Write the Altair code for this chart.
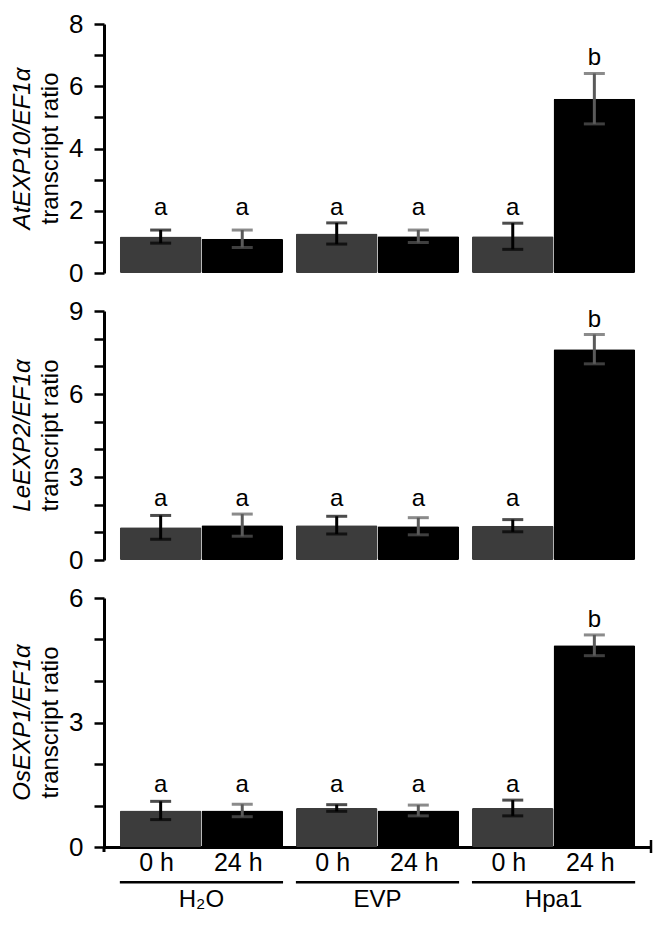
import altair as alt
import pandas as pd

# ---------------- data ----------------
treatments = ["H\u2082O", "EVP", "Hpa1"]
times = ["0 h", "24 h"]

# order: H2O 0h, H2O 24h, EVP 0h, EVP 24h, Hpa1 0h, Hpa1 24h
at_mean = [1.17, 1.10, 1.27, 1.18, 1.18, 5.60]
at_err = [0.21, 0.28, 0.34, 0.20, 0.42, 0.81]
at_letters = ["a", "a", "a", "a", "a", "b"]

le_mean = [1.18, 1.26, 1.26, 1.22, 1.24, 7.62]
le_err = [0.43, 0.40, 0.32, 0.31, 0.22, 0.53]
le_letters = ["a", "a", "a", "a", "a", "b"]

os_mean = [0.88, 0.88, 0.94, 0.88, 0.94, 4.86]
os_err = [0.22, 0.15, 0.08, 0.13, 0.19, 0.25]
os_letters = ["a", "a", "a", "a", "a", "b"]

genes = ["AtEXP10/EF1\u03b1", "LeEXP2/EF1\u03b1", "OsEXP1/EF1\u03b1"]
ylabel2 = "transcript ratio"
ymaxes = [8, 9, 6]
label_steps = [2, 3, 3]

# ---------------- style ----------------
FONT = "Liberation Sans"
W, H = 547, 249
BAR_COLORS = ["#3c3c3c", "#000000"]
ERR_COLORS = ["#000000", "#5a5a5a"]


def panel(mean, err, letters, ymax, step, gene, bottom):
    df = pd.DataFrame({
        "treatment": [t for t in treatments for _ in times],
        "time": times * len(treatments),
        "mean": mean,
        "err": err,
        "letter": letters,
    })
    df["upper"] = df["mean"] + df["err"]
    df["lower"] = df["mean"] - df["err"]
    base = alt.Chart(df)

    if bottom:
        xaxis = alt.Axis(labels=False, ticks=False, domain=True, domainWidth=3,
                         domainColor="black", title=None, grid=False)
    else:
        xaxis = None
    xenc = alt.X("treatment:N", sort=treatments,
                 scale=alt.Scale(paddingInner=0.073, paddingOuter=0.09),
                 axis=xaxis)
    xoff = alt.XOffset("time:N", sort=times,
                       scale=alt.Scale(paddingInner=0, paddingOuter=0))
    yscale = alt.Scale(domain=[0, ymax], nice=False, zero=True)
    yaxis = alt.Axis(values=list(range(ymax + 1)),
                     labelExpr=f"datum.value % {step} == 0 ? datum.label : ''",
                     tickSize=10, tickWidth=2.5, tickColor="black",
                     domainWidth=3, domainColor="black",
                     labelFontSize=26, labelFont=FONT, labelColor="black",
                     labelPadding=11, grid=False, title=None)

    def Y(f):
        return alt.Y(f, scale=yscale, axis=yaxis)

    errc = alt.condition("datum.time == '0 h'", alt.value(ERR_COLORS[0]),
                         alt.value(ERR_COLORS[1]))

    bars = base.mark_bar(cornerRadius=1.5).encode(
        x=xenc, xOffset=xoff, y=Y("mean:Q"),
        color=alt.Color("time:N", sort=times,
                        scale=alt.Scale(domain=times, range=BAR_COLORS),
                        legend=None))
    rules = base.mark_rule(strokeWidth=3).encode(
        x=xenc, xOffset=xoff, y=Y("lower:Q"), y2="upper:Q", color=errc)
    cap_hi = base.mark_tick(thickness=3, size=21).encode(
        x=xenc, xOffset=xoff, y=Y("upper:Q"), color=errc)
    cap_lo = base.mark_tick(thickness=3, size=21).encode(
        x=xenc, xOffset=xoff, y=Y("lower:Q"), color=errc)
    letters_l = base.transform_joinaggregate(
        ltop="max(upper)", groupby=["letter"]
    ).mark_text(baseline="alphabetic", dy=-8, fontSize=24, font=FONT,
                color="black").encode(
        x=xenc, xOffset=xoff, y=Y("ltop:Q"), text="letter:N")

    tdf = pd.DataFrame({"t": [gene], "u": [ylabel2]})
    title1 = alt.Chart(tdf).mark_text(angle=270, fontSize=24, font=FONT,
                                      fontStyle="italic", color="black").encode(
        x=alt.value(-81), y=alt.value(H / 2), text="t:N")
    title2 = alt.Chart(tdf).mark_text(angle=270, fontSize=24, font=FONT,
                                      color="black").encode(
        x=alt.value(-53), y=alt.value(H / 2), text="u:N")

    layers = [bars, rules, cap_hi, cap_lo, letters_l, title1, title2]

    if bottom:
        one = pd.DataFrame({"k": [0]})
        end_tick = alt.Chart(one).mark_rule(strokeWidth=2.5, color="black").encode(
            x=alt.value(W), y=alt.value(H - 7), y2=alt.value(H + 6))
        yext = alt.Chart(one).mark_rule(strokeWidth=3, color="black").encode(
            x=alt.value(0), y=alt.value(H), y2=alt.value(H + 5))
        time_lbl = base.mark_text(fontSize=25, font=FONT, color="black", dx=-4).encode(
            x=xenc, xOffset=xoff, y=alt.value(H + 16), text="time:N")
        gdf = pd.DataFrame({"treatment": treatments})
        underline = alt.Chart(gdf).mark_bar(color="black").encode(
            x=xenc, y=alt.value(H + 34), y2=alt.value(H + 36.5))
        grp_lbl = alt.Chart(gdf).mark_text(fontSize=24, font=FONT, color="black").encode(
            x=xenc, y=alt.value(H + 53), text="treatment:N")
        layers += [end_tick, yext, time_lbl, underline, grp_lbl]

    return alt.layer(*layers).properties(width=W, height=H)


p1 = panel(at_mean, at_err, at_letters, ymaxes[0], label_steps[0], genes[0], False)
p2 = panel(le_mean, le_err, le_letters, ymaxes[1], label_steps[1], genes[1], False)
p3 = panel(os_mean, os_err, os_letters, ymaxes[2], label_steps[2], genes[2], True)

chart = alt.vconcat(p1, p2, p3, spacing=38, bounds="flush").properties(
    autosize=alt.AutoSizeParams(type="none"),
    padding={"left": 96, "top": 16, "right": 2, "bottom": 888}
).configure_view(stroke=None).configure_text(font=FONT)

chart.save("out.html", embed_options={"renderer": "svg", "actions": False})
